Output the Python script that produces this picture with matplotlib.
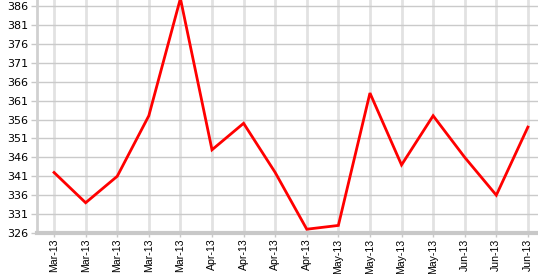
import matplotlib
matplotlib.use("Agg")
import matplotlib.pyplot as plt
import numpy as np

labels = ["Mar-13", "Mar-13", "Mar-13", "Mar-13", "Mar-13", "Apr-13", "Apr-13", "Apr-13",
          "Apr-13", "May-13", "May-13", "May-13", "May-13", "Jun-13", "Jun-13", "Jun-13"]
values = [342, 334, 341, 357, 388, 348, 355, 342, 327, 328, 363, 344, 357, 346, 336, 354]
yticks = list(range(326, 387, 5))

W, H = 538, 274
fig = plt.figure(figsize=(W / 100, H / 100), dpi=100)
left, right, top, bottom = 37, 538, 0, 233
ax = fig.add_axes([left / W, 1 - bottom / H, (right - left) / W, (bottom - top) / H])

x = np.arange(len(values))
ax.plot(x, values, color="#ff0000", lw=2, solid_joinstyle="miter", zorder=3)

ax.set_xlim(-0.54, 15.32)
ax.set_ylim(326, 387.6)
ax.set_yticks(yticks)
ax.set_xticks(x)
ax.set_xticklabels(labels, rotation=90, fontsize=7.6, family="Liberation Sans")
for t in ax.get_yticklabels():
    t.set_fontsize(8)

for xi in x:
    ax.axvline(xi, color="#e2e2e2", lw=2, zorder=1)
for yv in yticks:
    ax.axhline(yv, color="#cacaca", lw=1, zorder=1)

for s in ["top", "right"]:
    ax.spines[s].set_visible(False)
ax.spines["left"].set_color("#d0d0d0")
ax.spines["left"].set_linewidth(2)
ax.spines["bottom"].set_color("#c8c8c8")
ax.spines["bottom"].set_linewidth(3)
ax.tick_params(axis="y", color="#c8c8c8", length=4, width=1, pad=2, labelcolor="#000000")
ax.tick_params(axis="x", color="#c8c8c8", length=3, width=1, pad=1, labelcolor="#000000")

fig.savefig("out.png", dpi=100)
